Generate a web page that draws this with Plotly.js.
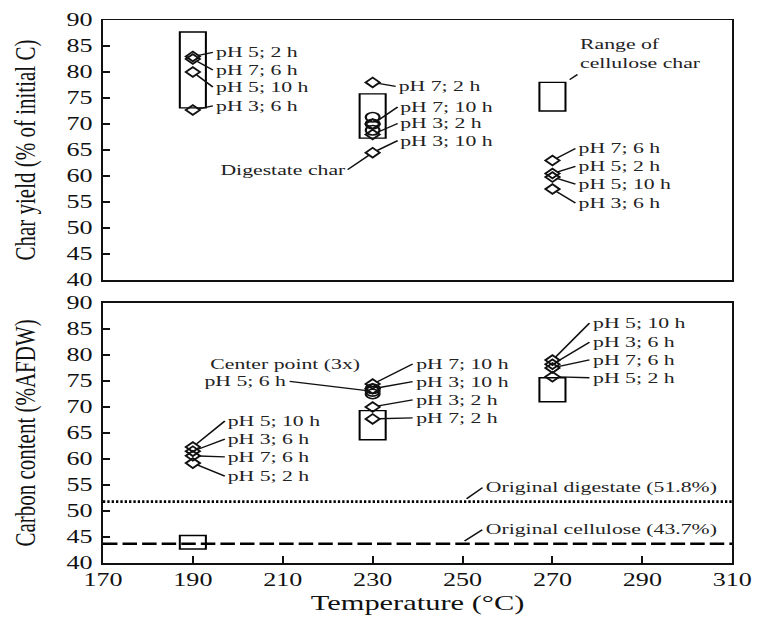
<!DOCTYPE html>
<html>
<head>
<meta charset="utf-8">
<script src="https://cdn.plot.ly/plotly-3.0.1.min.js"></script>
<style>
  html, body { margin: 0; padding: 0; background: #fff; overflow: hidden; }
  #wrap { width: 757px; height: 623px; overflow: hidden; }
  #chart { transform-origin: 0 0; }
</style>
</head>
<body>
<div id="wrap"><div id="chart"></div></div>
<script>
// ---------------- data ----------------
const xRange = [170, 310];
const yRange = [40, 90];

// Char yield (% of initial C), digestate char
const charLabels190 = ['pH 5; 2 h', 'pH 7; 6 h', 'pH 5; 10 h', 'pH 3; 6 h'];
const charYield190 = [83, 82.5, 80, 72.7];
const charLabels230 = ['pH 7; 2 h', 'pH 7; 10 h', 'pH 3; 2 h', 'pH 3; 10 h'];
const charYield230 = [78, 70, 68, 64.5];
const charLabels270 = ['pH 7; 6 h', 'pH 5; 2 h', 'pH 5; 10 h', 'pH 3; 6 h'];
const charYield270 = [63, 60.5, 59.8, 57.5];
const charCenter230 = [71.3, 70, 68.8];          // centre point pH 5; 6 h (3x)

// Carbon content (%AFDW)
const carbonLabels190 = ['pH 5; 10 h', 'pH 3; 6 h', 'pH 7; 6 h', 'pH 5; 2 h'];
const carbon190 = [62.3, 61.5, 60.6, 59.2];
const carbonLabels230 = ['pH 7; 10 h', 'pH 3; 10 h', 'pH 3; 2 h', 'pH 7; 2 h'];
const carbon230 = [74.4, 73.5, 70, 67.7];
const carbonLabels270 = ['pH 5; 10 h', 'pH 3; 6 h', 'pH 7; 6 h', 'pH 5; 2 h'];
const carbon270 = [79, 78.2, 77.5, 75.8];
const carbonCenter230 = [73.5, 73, 72.5];        // centre point pH 5; 6 h (3x)

// Ranges (boxes)
const charBoxTemps = [190, 230, 270];
const charBoxLow = [73.1, 67.3, 72.5];
const charBoxHigh = [87.7, 75.8, 78];
const carbonBoxTemps = [190, 230, 270];
const carbonBoxLow = [42.7, 63.7, 71];
const carbonBoxHigh = [45.3, 69.3, 75.6];

// Original materials
const originalNames = ['Original digestate (51.8%)', 'Original cellulose (43.7%)'];
const originalCarbon = [51.8, 43.7];

// ---------------- layout helpers ----------------
const S = 1.45;                 // horizontal stretch of the reference
const W = Math.round(757 / S);
const H = 623;
const FONT = 'Liberation Serif, Times New Roman, serif';
const BOX_HW = 2.9;

const mk = (sym, size) => ({ symbol: sym, size: size, color: '#111', line: { color: '#111', width: 1.6 } });

const traces = [];
function addPts(x, ys, sym, xa, ya, size) {
  traces.push({ type: 'scatter', mode: 'markers', x: ys.map(() => x), y: ys,
    xaxis: xa, yaxis: ya, marker: mk(sym, size), showlegend: false, hoverinfo: 'x+y' });
}
addPts(190, charYield190, 'diamond-open', 'x', 'y', 7.5);
addPts(230, charYield230, 'diamond-open', 'x', 'y', 7.5);
addPts(270, charYield270, 'diamond-open', 'x', 'y', 7.5);
addPts(230, charCenter230, 'circle-open', 'x', 'y', 9.5);
addPts(190, carbon190, 'diamond-open', 'x2', 'y2', 7.5);
addPts(230, carbon230, 'diamond-open', 'x2', 'y2', 7.5);
addPts(270, carbon270, 'diamond-open', 'x2', 'y2', 7.5);
addPts(230, carbonCenter230, 'circle-open', 'x2', 'y2', 9.5);

// original material lines
traces.push({ type: 'scatter', mode: 'lines', x: xRange, y: [originalCarbon[0], originalCarbon[0]],
  xaxis: 'x2', yaxis: 'y2', line: { color: '#000', width: 2.6, dash: '1.6px,1.4px' }, showlegend: false, hoverinfo: 'skip' });
traces.push({ type: 'scatter', mode: 'lines', x: xRange, y: [originalCarbon[1], originalCarbon[1]],
  xaxis: 'x2', yaxis: 'y2', line: { color: '#000', width: 2.6, dash: '10px,3.5px' }, showlegend: false, hoverinfo: 'skip' });

// boxes
const shapes = [];
charBoxTemps.forEach((t, i) => shapes.push({ type: 'rect', xref: 'x', yref: 'y',
  x0: t - BOX_HW, x1: t + BOX_HW, y0: charBoxLow[i], y1: charBoxHigh[i],
  line: { color: '#000', width: 1.4 }, fillcolor: 'rgba(0,0,0,0)', layer: 'below' }));
carbonBoxTemps.forEach((t, i) => shapes.push({ type: 'rect', xref: 'x2', yref: 'y2',
  x0: t - BOX_HW, x1: t + BOX_HW, y0: carbonBoxLow[i], y1: carbonBoxHigh[i],
  line: { color: '#000', width: 1.4 }, fillcolor: 'rgba(0,0,0,0)', layer: 'below' }));

// annotations
const annFont = { family: FONT, size: 15, color: '#222' };
const annotations = [];
function lead(x, y, text, ax, ay, xa, ya, xanchor, yanchor) {
  annotations.push({ x: x, y: y, xref: xa, yref: ya, text: text, showarrow: true,
    ax: ax / S, ay: ay, arrowhead: 0, arrowwidth: 1.3, arrowcolor: '#111', standoff: 4,
    xanchor: xanchor || 'left', yanchor: yanchor || 'middle', align: 'left', font: annFont });
}
const offC190 = [[20, -4], [20, 11], [20, 15], [20, -4]];
const offC230 = [[23, 4], [25, -17], [25, -11], [25, -12]];
const offC270 = [[23, -12], [23, -7], [23, 7], [23, 14]];
const offB190 = [[32, -26], [32, -12], [32, 1], [32, 13]];
const offB230 = [[40, -20], [40, -7], [40, -7], [40, -1]];
const offB270 = [[37, -37], [37, -22], [37, -8], [37, 1]];
charLabels190.forEach((l, i) => lead(190, charYield190[i], l, offC190[i][0], offC190[i][1], 'x', 'y'));
charLabels230.forEach((l, i) => lead(230, charYield230[i], l, offC230[i][0], offC230[i][1], 'x', 'y'));
charLabels270.forEach((l, i) => lead(270, charYield270[i], l, offC270[i][0], offC270[i][1], 'x', 'y'));
carbonLabels190.forEach((l, i) => lead(190, carbon190[i], l, offB190[i][0], offB190[i][1], 'x2', 'y2'));
carbonLabels230.forEach((l, i) => lead(230, carbon230[i], l, offB230[i][0], offB230[i][1], 'x2', 'y2'));
carbonLabels270.forEach((l, i) => lead(270, carbon270[i], l, offB270[i][0], offB270[i][1], 'x2', 'y2'));

lead(230, charYield230[3], 'Digestate char', -25, 17, 'x', 'y', 'right', 'middle');
lead(charBoxTemps[2] + BOX_HW, charBoxHigh[2], 'Range of<br>cellulose char', 12, -8, 'x', 'y', 'left', 'bottom');
lead(230, carbonCenter230[1], 'pH 5; 6 h', -83, -10, 'x2', 'y2', 'right', 'middle');
annotations.push({ x: 193.1, y: 78.1, xref: 'x2', yref: 'y2', text: 'Center point (3x)', showarrow: false,
  xanchor: 'left', yanchor: 'middle', font: annFont });
lead(250, originalCarbon[0], originalNames[0], 20, -14, 'x2', 'y2', 'left', 'middle');
lead(249.5, originalCarbon[1], originalNames[1], 22, -14, 'x2', 'y2', 'left', 'middle');

const axLine = { showline: true, mirror: true, linecolor: '#111', linewidth: 1.5,
  showgrid: false, zeroline: false };
const tickFont = { family: FONT, size: 18, color: '#111' };
const titleFont = { family: FONT, size: 21, color: '#111' };

const layout = {
  width: W, height: H,
  margin: { l: 71, r: 17, t: 20, b: 60 },
  paper_bgcolor: '#fff', plot_bgcolor: '#fff',
  showlegend: false,
  xaxis: Object.assign({}, axLine, { domain: [0, 1], anchor: 'y', range: xRange,
    showticklabels: false, ticks: '' }),
  yaxis: Object.assign({}, axLine, { domain: [0.521, 1], anchor: 'x', range: yRange,
    dtick: 5, tick0: 40, ticks: 'inside', ticklen: 5, tickwidth: 1.4, tickcolor: '#111',
    tickfont: tickFont, ticklabelstandoff: 2,
    title: { text: 'Char yield (% of initial C)', font: titleFont, standoff: 15 } }),
  xaxis2: Object.assign({}, axLine, { domain: [0, 1], anchor: 'y2', range: xRange,
    dtick: 20, tick0: 170, ticks: 'inside', ticklen: 7, tickwidth: 1.4, tickcolor: '#111',
    tickfont: tickFont,
    title: { text: 'Temperature (°C)', font: titleFont, standoff: 6 } }),
  yaxis2: Object.assign({}, axLine, { domain: [0, 0.479], anchor: 'x2', range: yRange,
    dtick: 5, tick0: 40, ticks: 'inside', ticklen: 5, tickwidth: 1.4, tickcolor: '#111',
    tickfont: tickFont, ticklabelstandoff: 2,
    title: { text: 'Carbon content (%AFDW)', font: titleFont, standoff: 15 } }),
  shapes: shapes,
  annotations: annotations
};

const el = document.getElementById('chart');
el.style.width = W + 'px';
el.style.height = H + 'px';
el.style.transform = 'scaleX(' + S + ')';
Plotly.newPlot(el, traces, layout, { displayModeBar: false, staticPlot: true });
</script>
</body>
</html>
